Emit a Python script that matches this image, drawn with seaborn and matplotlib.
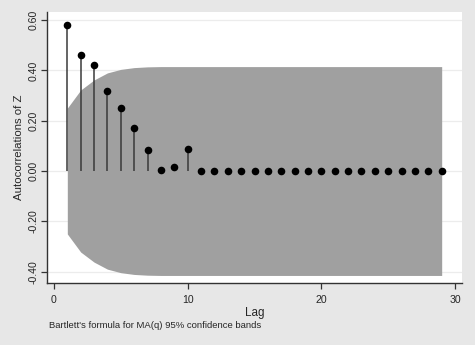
import numpy as np
import pandas as pd
import matplotlib
matplotlib.use("Agg")
import matplotlib.pyplot as plt
import seaborn as sns

lags = list(range(1, 30))
acf = [0.580, 0.461, 0.422, 0.318, 0.250, 0.171, 0.083, 0.005, 0.016, 0.088,
       0.0, 0.0, 0.0, 0.0, 0.0, 0.0, 0.0, 0.0, 0.0, 0.0,
       0.0, 0.0, 0.0, 0.0, 0.0, 0.0, 0.0, 0.0, 0.0]
band = [0.250, 0.322, 0.362, 0.390, 0.404, 0.411, 0.414, 0.415, 0.415, 0.415,
        0.415, 0.415, 0.415, 0.415, 0.415, 0.415, 0.415, 0.415, 0.415, 0.415,
        0.415, 0.415, 0.415, 0.415, 0.415, 0.415, 0.415, 0.415, 0.415]
yticks = [-0.40, -0.20, 0.00, 0.20, 0.40, 0.60]
xticks = [0, 10, 20, 30]

df = pd.DataFrame({"lag": lags, "acf": acf, "band": band})

sns.set_theme(style="white")
plt.rcParams["font.family"] = ["Liberation Sans", "DejaVu Sans"]

fig = plt.figure(figsize=(4.75, 3.45), dpi=100)
fig.patch.set_facecolor("#e7e7e7")
ax = fig.add_axes([47/475, 1-283/345, (462-47)/475, (283-12)/345])
ax.set_facecolor("white")

for t in yticks:
    ax.axhline(t, color="#ececec", lw=0.9, zorder=0)

ax.fill_between(df["lag"], -df["band"], df["band"], color="#a0a0a0", lw=0, zorder=1)
ax.vlines(df["lag"], 0, df["acf"], color="#3a3a3a", lw=1.1, zorder=2)
sns.scatterplot(data=df, x="lag", y="acf", ax=ax, color="black", s=30,
                edgecolor="black", linewidth=0, zorder=3)

ax.set_xlim(-0.52, 30.52)
ax.set_ylim(-0.445, 0.632)
ax.set_xticks(xticks)
ax.set_yticks(yticks)
ax.set_yticklabels([f"{t:.2f}" for t in yticks], rotation=90, va="center")
ax.tick_params(axis="both", which="major", direction="out", length=4, width=0.9,
               color="#333333", labelsize=7.6, left=True, bottom=True)
ax.tick_params(axis="x", pad=4.5)
ax.tick_params(axis="y", pad=2)
for s in ["top", "right"]:
    ax.spines[s].set_visible(False)
for s in ["left", "bottom"]:
    ax.spines[s].set_color("#333333")
    ax.spines[s].set_linewidth(1.0)

ax.set_xlabel("Lag", fontsize=8.4, labelpad=1.5)
ax.set_ylabel("Autocorrelations of Z", fontsize=8.2, labelpad=3)
fig.text(49/475, 1-326/345, "Bartlett's formula for MA(q) 95% confidence bands",
         fontsize=6.8, va="center", ha="left")

fig.savefig("out.png", dpi=100, facecolor=fig.get_facecolor())
